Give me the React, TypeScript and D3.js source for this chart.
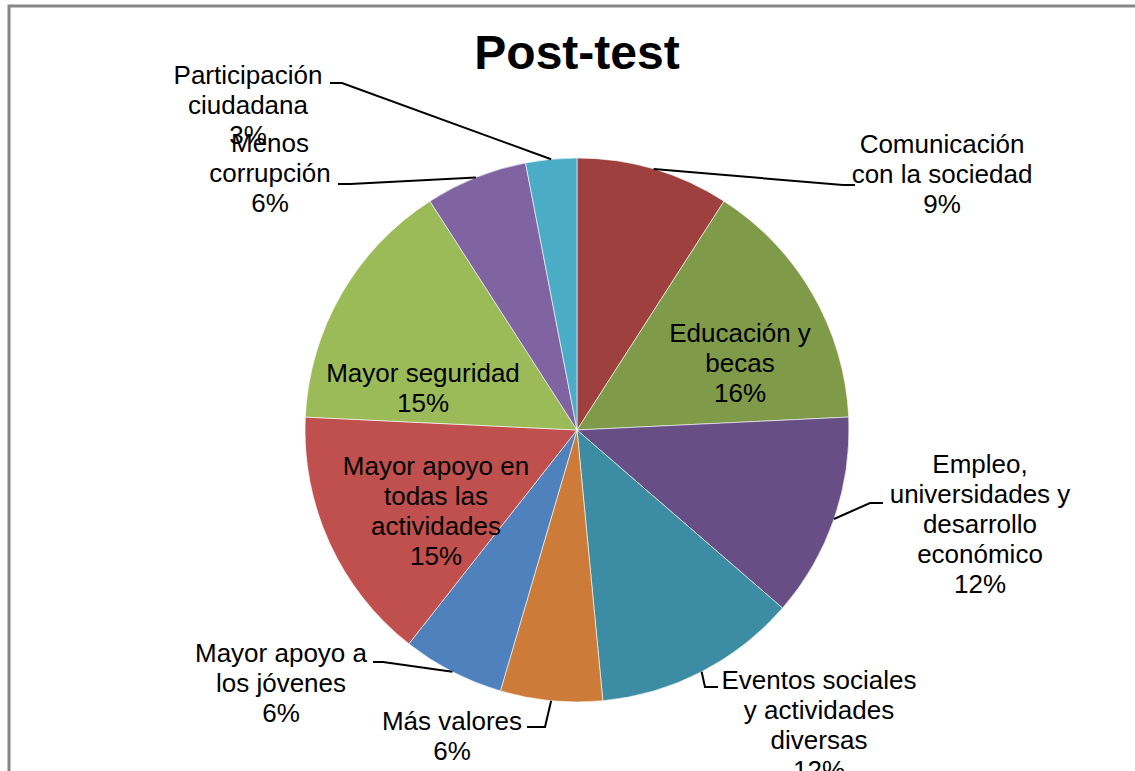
import React from "react";
import * as d3 from "d3";

const categories = [
  "Comunicación con la sociedad",
  "Educación y becas",
  "Empleo, universidades y desarrollo económico",
  "Eventos sociales y actividades diversas",
  "Más valores",
  "Mayor apoyo a los jóvenes",
  "Mayor apoyo en todas las actividades",
  "Mayor seguridad",
  "Menos corrupción",
  "Participación ciudadana",
];
const counts = [3, 5, 4, 4, 2, 2, 5, 5, 2, 1];
const percentLabels = ["9%", "16%", "12%", "12%", "6%", "6%", "15%", "15%", "6%", "3%"];
const labelLines = [
  ["Comunicación", "con la sociedad"],
  ["Educación y", "becas"],
  ["Empleo,", "universidades y", "desarrollo", "económico"],
  ["Eventos sociales", "y actividades", "diversas"],
  ["Más valores"],
  ["Mayor apoyo a", "los jóvenes"],
  ["Mayor apoyo en", "todas las", "actividades"],
  ["Mayor seguridad"],
  ["Menos", "corrupción"],
  ["Participación", "ciudadana"],
];
const colors = [
  "#9E413E", "#7F9A48", "#674F85", "#3C8DA3", "#CC7B38",
  "#4F81BD", "#C0504D", "#9BBB59", "#8064A2", "#4BACC6",
];

// layout: label center x, first baseline y, leader start & elbow (null = inside)
const layout: { x: number; y: number; lead: null | [number, number, number] }[] = [
  { x: 942, y: 153, lead: [855, 843, 185] },
  { x: 740, y: 342, lead: null },
  { x: 980, y: 473, lead: [883, 870, 503] },
  { x: 819, y: 689, lead: [718, 705, 687] },
  { x: 452, y: 730, lead: [527, 545, 727] },
  { x: 281, y: 662, lead: [373, 383, 662] },
  { x: 436, y: 475, lead: null },
  { x: 423, y: 382, lead: null },
  { x: 270, y: 152, lead: [338, 350, 184] },
  { x: 248, y: 84, lead: [330, 342, 83] },
];

const W = 1135;
const H = 771;
const cx = 577;
const cy = 430;
const R = 272;

export default function App() {
  const pie = d3.pie<number>().sort(null).value((d) => d);
  const arcs = pie(counts);
  const arc = d3.arc<d3.PieArcDatum<number>>().innerRadius(0).outerRadius(R);
  const edge = d3.arc<d3.PieArcDatum<number>>().innerRadius(R).outerRadius(R);
  const font = "'Liberation Sans', Arial, sans-serif";
  const lh = 30;

  return (
    <svg
      width={W}
      height={H}
      style={{ position: "absolute", left: 0, top: 0, background: "#fff" }}
    >
      <rect x={9} y={6} width={W + 20} height={H + 20} fill="#fff" stroke="#878787" strokeWidth={3} />
      <text
        x={577}
        y={69}
        textAnchor="middle"
        fontFamily={font}
        fontWeight="bold"
        fontSize={48}
        fill="#000"
      >
        Post-test
      </text>
      <g transform={`translate(${cx},${cy})`}>
        {arcs.map((a, i) => (
          <path key={categories[i]} d={arc(a) || ""} fill={colors[i]} stroke="#fff" strokeWidth={0.6} />
        ))}
      </g>
      {arcs.map((a, i) => {
        const L = layout[i];
        if (!L.lead) return null;
        const [px, py] = edge.centroid(a);
        const [sx, ex, ly] = L.lead;
        const d = `M${sx},${ly}L${ex},${ly}L${cx + px},${cy + py}`;
        return <path key={"l" + i} d={d} fill="none" stroke="#000" strokeWidth={2} />;
      })}
      {arcs.map((a, i) => {
        const L = layout[i];
        const lines = [...labelLines[i], percentLabels[i]];
        return (
          <text
            key={"t" + i}
            x={L.x}
            y={L.y}
            textAnchor="middle"
            fontFamily={font}
            fontSize={26}
            fill="#000"
          >
            {lines.map((s, j) => (
              <tspan key={j} x={L.x} y={L.y + j * lh}>
                {s}
              </tspan>
            ))}
          </text>
        );
      })}
    </svg>
  );
}
